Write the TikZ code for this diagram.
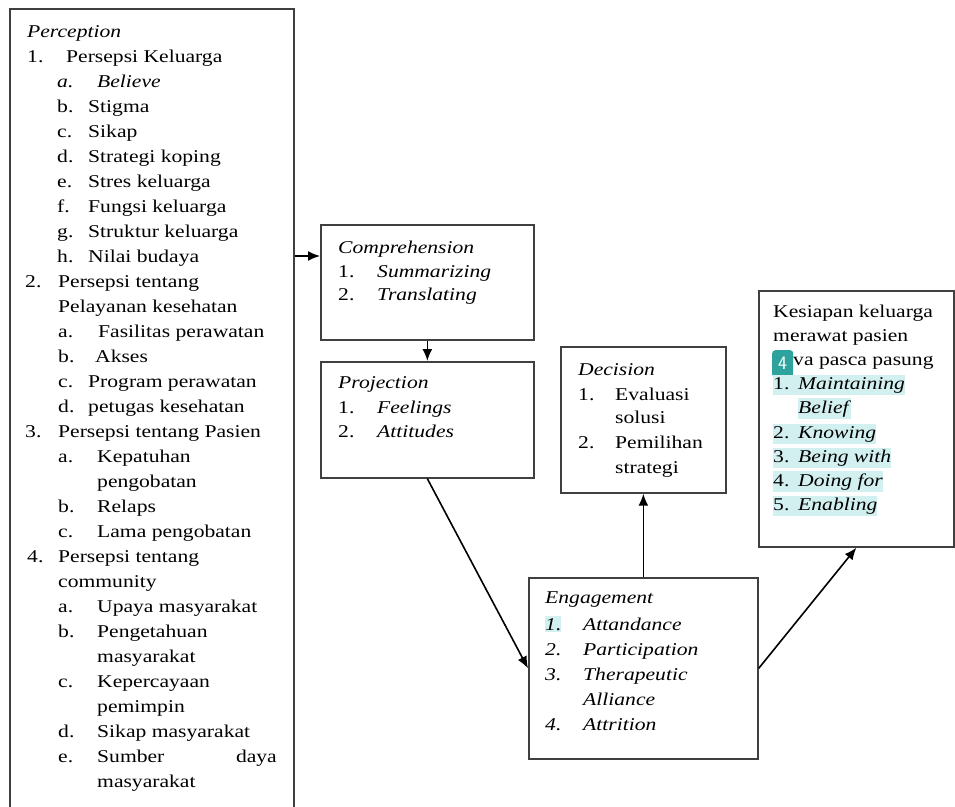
\documentclass[tikz,border=0pt]{standalone}
\usepackage{fontspec}
\setmainfont{Liberation Serif}[FakeStretch=1.2]
\usetikzlibrary{arrows.meta}

\definecolor{bordgris}{HTML}{404040}
\definecolor{surligne}{HTML}{D3F0F1}
\definecolor{sarcelle}{HTML}{2EA39E}

\tikzset{
  boite/.style={draw=bordgris, line width=1.7pt, anchor=north west, inner sep=0pt},
  ligne/.style={anchor=base west, inner sep=0pt},
  fleche/.style={-{Latex[length=12pt,width=10pt]}, line width=1.6pt},
  surl/.style={fill=surligne, inner ysep=2pt},
  badge/.style={fill=sarcelle, text=white, rounded corners=3pt, anchor=north west,
    minimum width=21pt, minimum height=27pt, inner sep=0pt,
    font=\sffamily\fontsize{19}{19}\selectfont}
}

\begin{document}
\begin{tikzpicture}[x=1pt, y=-1pt, font=\fontsize{18}{24}\selectfont]
    \useasboundingbox (0,0) rectangle (955,806);

    % Cadres
    \node[boite, minimum width=284pt, minimum height=812pt] (perc) at (9,8) {};
    \node[boite, minimum width=213pt, minimum height=115pt] (comp) at (320,224) {};
    \node[boite, minimum width=213pt, minimum height=116pt] (proj) at (320,361) {};
    \node[boite, minimum width=165pt, minimum height=146pt] (deci) at (560,346) {};
    \node[boite, minimum width=229pt, minimum height=181pt] (enga) at (528,577) {};
    \node[boite, minimum width=195pt, minimum height=256pt] (kesi) at (758,290) {};

    % Perception
    \node[ligne] (pTitre) at (27,37) {\textit{Perception}};
    \foreach \xa/\xb/\k/\lab/\txt [count=\i] in {
        27/66/1/1./Persepsi Keluarga,
        57/97/2/\textit{a.}/\textit{Believe},
        57/88/3/b./Stigma,
        57/88/4/c./Sikap,
        57/88/5/d./Strategi koping,
        57/88/6/e./Stres keluarga,
        57/88/7/f./Fungsi keluarga,
        57/88/8/g./Struktur keluarga,
        57/88/9/h./Nilai budaya,
        25/58/10/2./Persepsi tentang,
        25/58/11//Pelayanan kesehatan,
        58/98/12/a./Fasilitas perawatan,
        58/95/13/b./Akses,
        58/88/14/c./Program perawatan,
        58/88/15/d./petugas kesehatan,
        25/58/16/3./Persepsi tentang Pasien,
        58/97/17/a./Kepatuhan,
        58/97/18//pengobatan,
        58/97/19/b./Relaps,
        58/97/20/c./Lama pengobatan,
        27/58/21/4./Persepsi tentang,
        27/58/22//community,
        58/97/23/a./Upaya masyarakat,
        58/97/24/b./Pengetahuan,
        58/97/25//masyarakat,
        58/97/26/c./Kepercayaan,
        58/97/27//pemimpin,
        58/97/28/d./Sikap masyarakat,
        58/97/29/e./Sumber,
        58/97/30//masyarakat}{
        \node[ligne] (pn\i) at (\xa,37+25*\k) {\lab};
        \node[ligne] (pt\i) at (\xb,37+25*\k) {\txt};
    }
    \node[ligne, anchor=base east] (pDaya) at (277,762) {daya};

    % Comprehension et Projection
    \node[ligne] (cTitre) at (338,253) {\textit{Comprehension}};
    \node[ligne] (jTitre) at (338,388) {\textit{Projection}};
    \foreach \y/\n/\t [count=\i] in {277/1./Summarizing, 300/2./Translating,
        413/1./Feelings, 437/2./Attitudes}{
        \node[ligne] (cn\i) at (338,\y) {\n};
        \node[ligne] (ct\i) at (377,\y) {\textit{\t}};
    }

    % Decision
    \node[ligne] (dTitre) at (578,375) {\textit{Decision}};
    \foreach \y/\n/\t [count=\i] in {400/1./Evaluasi, 423//solusi,
        448/2./Pemilihan, 473//strategi}{
        \node[ligne] (dn\i) at (578,\y) {\n};
        \node[ligne] (dt\i) at (615,\y) {\t};
    }

    % Engagement
    \node[ligne] (eTitre) at (545,603) {\textit{Engagement}};
    \node[ligne, surl] (en1) at (545,630) {\textit{1.}};
    \node[ligne] (et1) at (583,630) {\textit{Attandance}};
    \foreach \y/\n/\t [count=\i from 2] in {655/2./Participation,
        680/3./Therapeutic, 705//Alliance, 730/4./Attrition}{
        \node[ligne] (en\i) at (545,\y) {\textit{\n}};
        \node[ligne] (et\i) at (583,\y) {\textit{\t}};
    }

    % Kesiapan keluarga
    \node[ligne] (k1) at (773,317) {Kesiapan keluarga};
    \node[ligne] (k2) at (773,341) {merawat pasien};
    \node[badge] (kBadge) at (772,350) {4};
    \node[ligne] (k3) at (793,365) {va pasca pasung};
    \foreach \y/\n/\t [count=\i] in {389/1./Maintaining, 438/2./Knowing,
        462/3./Being with, 486/4./Doing for, 510/5./Enabling}{
        \node[ligne, surl] (kn\i) at (773,\y) {\makebox[25pt][l]{\n}\textit{\t}};
    }
    \node[ligne, surl] (kBelief) at (798,413) {\textit{Belief}};

    % Fleches
    \coordinate (cEntree) at (320,256);
    \draw[fleche] (perc.east |- cEntree) -- (cEntree);
    \draw[fleche] (comp.south) -- (proj.north);
    \draw[fleche] (proj.south) -- (enga.west);
    \draw[fleche] (enga.north) -- (deci.south);
    \draw[fleche] (enga.east) -- (kesi.south);
\end{tikzpicture}
\end{document}
